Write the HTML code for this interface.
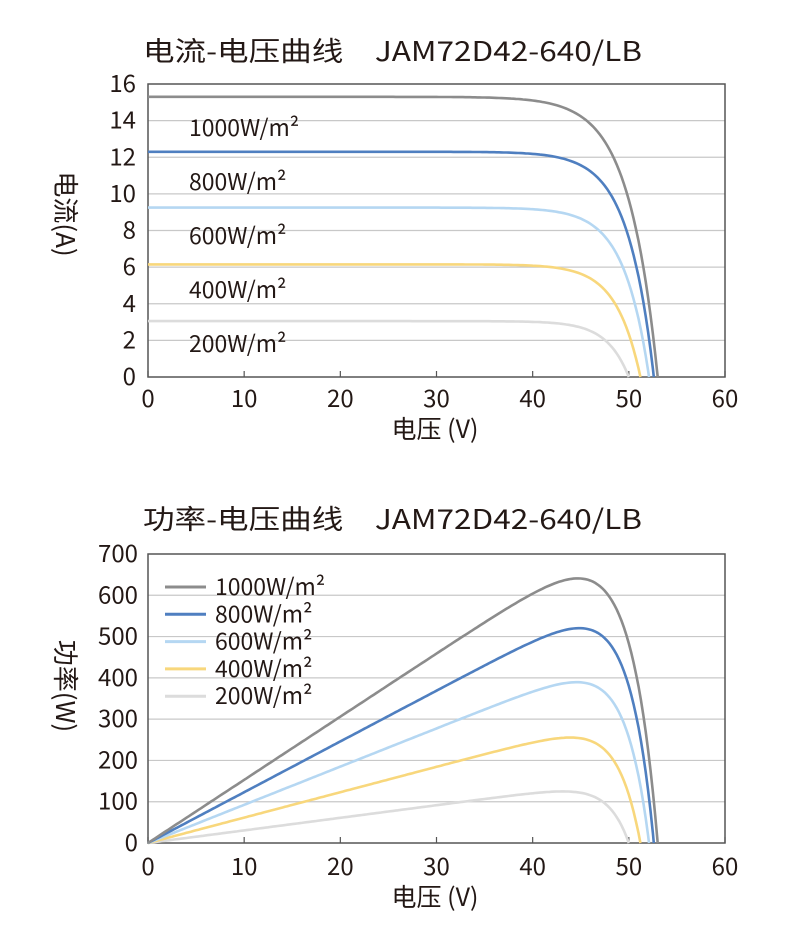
<!DOCTYPE html>
<html><head><meta charset="utf-8"><style>
body{margin:0;background:#fff;}
svg text{font-family:"Noto Sans CJK SC","Liberation Sans",sans-serif;fill:#231815;}
</style></head><body>
<svg id="s" width="800" height="940" viewBox="0 0 800 940" xmlns="http://www.w3.org/2000/svg">
<rect width="800" height="940" fill="#fff"/>
<g id="grid"></g>
<text x="143" y="61" font-size="27" textLength="499" lengthAdjust="spacingAndGlyphs">电流-电压曲线　JAM72D42-640/LB</text>
<text x="143" y="529" font-size="27" textLength="499" lengthAdjust="spacingAndGlyphs">功率-电压曲线　JAM72D42-640/LB</text>
<g font-size="23">
<text x="189" y="136">1000W/m²</text>
<text x="189" y="190">800W/m²</text>
<text x="189" y="244">600W/m²</text>
<text x="189" y="298">400W/m²</text>
<text x="189" y="352">200W/m²</text>
</g>
<text x="435" y="438" font-size="25" text-anchor="middle">电压 (V)</text>
<text x="435" y="906" font-size="25" text-anchor="middle">电压 (V)</text>
<text transform="translate(56,214) rotate(90)" font-size="26" text-anchor="middle">电流(A)</text>
<text transform="translate(56,686) rotate(90)" font-size="26" text-anchor="middle">功率(W)</text>
<g id="leg" font-size="23"></g>
<g id="curves"></g>
</svg>
<script>
var NS="http://www.w3.org/2000/svg";
function el(p,t,a,txt){var e=document.createElementNS(NS,t);for(var k in a)e.setAttribute(k,a[k]);if(txt!=null)e.textContent=txt;document.getElementById(p).appendChild(e);return e;}
var X0=148,X1=725;function sx(v){return X0+v*(X1-X0)/60;}
function ty(i){return 377-i*(377-84)/16;}
function py(p){return 843-p*(843-554)/700;}
for(var i=2;i<16;i+=2)el("grid","line",{x1:X0,x2:X1,y1:ty(i),y2:ty(i),stroke:"#c8c8c8","stroke-width":1.2});
for(var p=100;p<700;p+=100)el("grid","line",{x1:X0,x2:X1,y1:py(p),y2:py(p),stroke:"#c8c8c8","stroke-width":1.2});
el("grid","rect",{x:X0,y:84,width:X1-X0,height:293,fill:"none",stroke:"#555","stroke-width":1.5});
el("grid","rect",{x:X0,y:554,width:X1-X0,height:289,fill:"none",stroke:"#555","stroke-width":1.5});
for(var v=0;v<=60;v+=10){
 el("grid","line",{x1:sx(v),x2:sx(v),y1:377,y2:371,stroke:"#555","stroke-width":1.2});
 el("grid","line",{x1:sx(v),x2:sx(v),y1:843,y2:837,stroke:"#555","stroke-width":1.2});
 el("grid","text",{x:sx(v),y:407,"font-size":24,"text-anchor":"middle"},v);
 el("grid","text",{x:sx(v),y:875,"font-size":24,"text-anchor":"middle"},v);
}
for(var i=0;i<=16;i+=2)el("grid","text",{x:136,y:ty(i)+8,"font-size":24,"text-anchor":"end"},i);
for(var p=0;p<=700;p+=100)el("grid","text",{x:138,y:py(p)+8,"font-size":24,"text-anchor":"end"},p);
var C=[["#8c8c8c",15.3,53.0,3.0,"1000W/m²"],["#4f7fc0",12.3,52.6,2.7,"800W/m²"],["#b5d7f2",9.25,52.1,2.6,"600W/m²"],["#f8d77c",6.15,51.2,2.5,"400W/m²"],["#dcdcdc",3.05,50.0,2.3,"200W/m²"]];
C.slice().reverse().forEach(function(c){
 var d1="",d2="";
 for(var v=0;v<=c[2]+0.001;v+=0.25){var vv=Math.min(v,c[2]);var I=c[1]*(1-Math.exp((vv-c[2])/c[3]));
  d1+=(v==0?"M":"L")+sx(vv).toFixed(1)+","+ty(I).toFixed(1);
  d2+=(v==0?"M":"L")+sx(vv).toFixed(1)+","+py(vv*I).toFixed(1);}
 d1+="L"+sx(c[2]).toFixed(1)+","+ty(0);d2+="L"+sx(c[2]).toFixed(1)+","+py(0);
 el("curves","path",{d:d1,fill:"none",stroke:c[0],"stroke-width":2.6});
 el("curves","path",{d:d2,fill:"none",stroke:c[0],"stroke-width":2.6});
});
C.forEach(function(c,k){var y=587+k*27.3;
 el("leg","line",{x1:165,x2:206,y1:y,y2:y,stroke:c[0],"stroke-width":3});
 el("leg","text",{x:215,y:y+8,"font-size":23},c[4]);});
</script>
</body></html>
